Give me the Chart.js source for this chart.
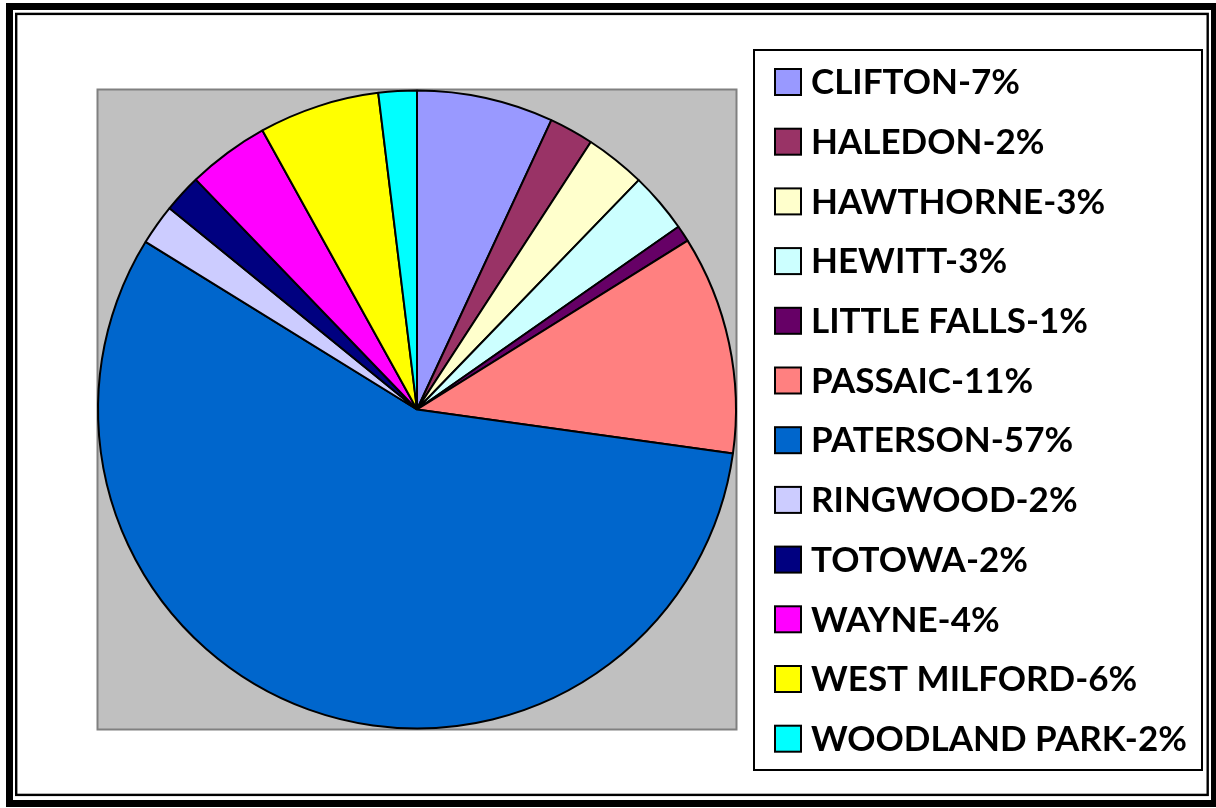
<!DOCTYPE html>
<html>
<head>
<meta charset="utf-8">
<script src="https://cdn.jsdelivr.net/npm/chart.js@4.4.1/dist/chart.umd.min.js"></script>
<style>
    html, body { margin: 0; padding: 0; background: #fff; }
    #wrap { position: relative; width: 1216px; height: 808px; }
</style>
</head>
<body>
<div id="wrap"><canvas id="pieChart"></canvas></div>
<script>
// legend labels and slice values (percent)
const towns = [
    "CLIFTON-7%", "HALEDON-2%", "HAWTHORNE-3%", "HEWITT-3%",
    "LITTLE FALLS-1%", "PASSAIC-11%", "PATERSON-57%", "RINGWOOD-2%",
    "TOTOWA-2%", "WAYNE-4%", "WEST MILFORD-6%", "WOODLAND PARK-2%"
];
const shares = [6.92, 2.25, 3.06, 3.06, 0.83, 11.08, 56.61, 2.06, 1.94, 4.14, 6.11, 1.94];
const sliceColors = [
    "#9999FF", "#993366", "#FFFFCC", "#CCFFFF", "#660066", "#FF8080",
    "#0066CC", "#CCCCFF", "#000080", "#FF00FF", "#FFFF00", "#00FFFF"
];

// frame + grey plot area behind the pie
const backdrop = {
    id: "backdrop",
    beforeDraw(chart) {
        const c = chart.ctx;
        c.save();
        c.fillStyle = "#000";
        c.fillRect(6, 3, 1212, 804);
        c.fillStyle = "#fff";
        c.fillRect(13, 10, 1198, 790);
        c.strokeStyle = "#000";
        c.lineWidth = 2.4;
        c.strokeRect(16.2, 13.9, 1191.5, 781);

        c.fillStyle = "#C0C0C0";
        c.fillRect(97, 89, 640, 641);
        c.strokeStyle = "#808080";
        c.lineWidth = 2;
        c.strokeRect(97.5, 89.5, 639, 640);
        c.restore();
    }
};

// boxed legend on the right
const boxLegend = {
    id: "boxLegend",
    afterDraw(chart) {
        const c = chart.ctx;
        const ds = chart.data.datasets[0];
        c.save();
        c.strokeStyle = "#000";
        c.lineWidth = 2;
        c.strokeRect(754, 50, 448, 720);

        c.font = "bold 35px Lato";
        c.textBaseline = "middle";
        chart.data.labels.forEach((lbl, i) => {
            const y = 82 + i * 59.7;
            c.fillStyle = ds.backgroundColor[i];
            c.fillRect(775, y - 13, 26, 26);
            c.lineWidth = 2;
            c.strokeStyle = "#000";
            c.strokeRect(775, y - 13, 26, 26);
            c.fillStyle = "#000";
            c.fillText(lbl, 811, y + 1);
        });
        c.restore();
    }
};

new Chart(document.getElementById("pieChart").getContext("2d"), {
    type: "pie",
    data: {
        labels: towns,
        datasets: [{
            data: shares,
            backgroundColor: sliceColors,
            borderColor: "#000",
            borderWidth: 2
        }]
    },
    options: {
        responsive: true,
        maintainAspectRatio: false,
        animation: false,
        devicePixelRatio: 1,
        layout: {
            padding: { left: 97, top: 89, right: 479, bottom: 78 }
        },
        plugins: {
            legend: { display: false },
            tooltip: { enabled: false }
        }
    },
    plugins: [backdrop, boxLegend]
});
</script>
</body>
</html>
